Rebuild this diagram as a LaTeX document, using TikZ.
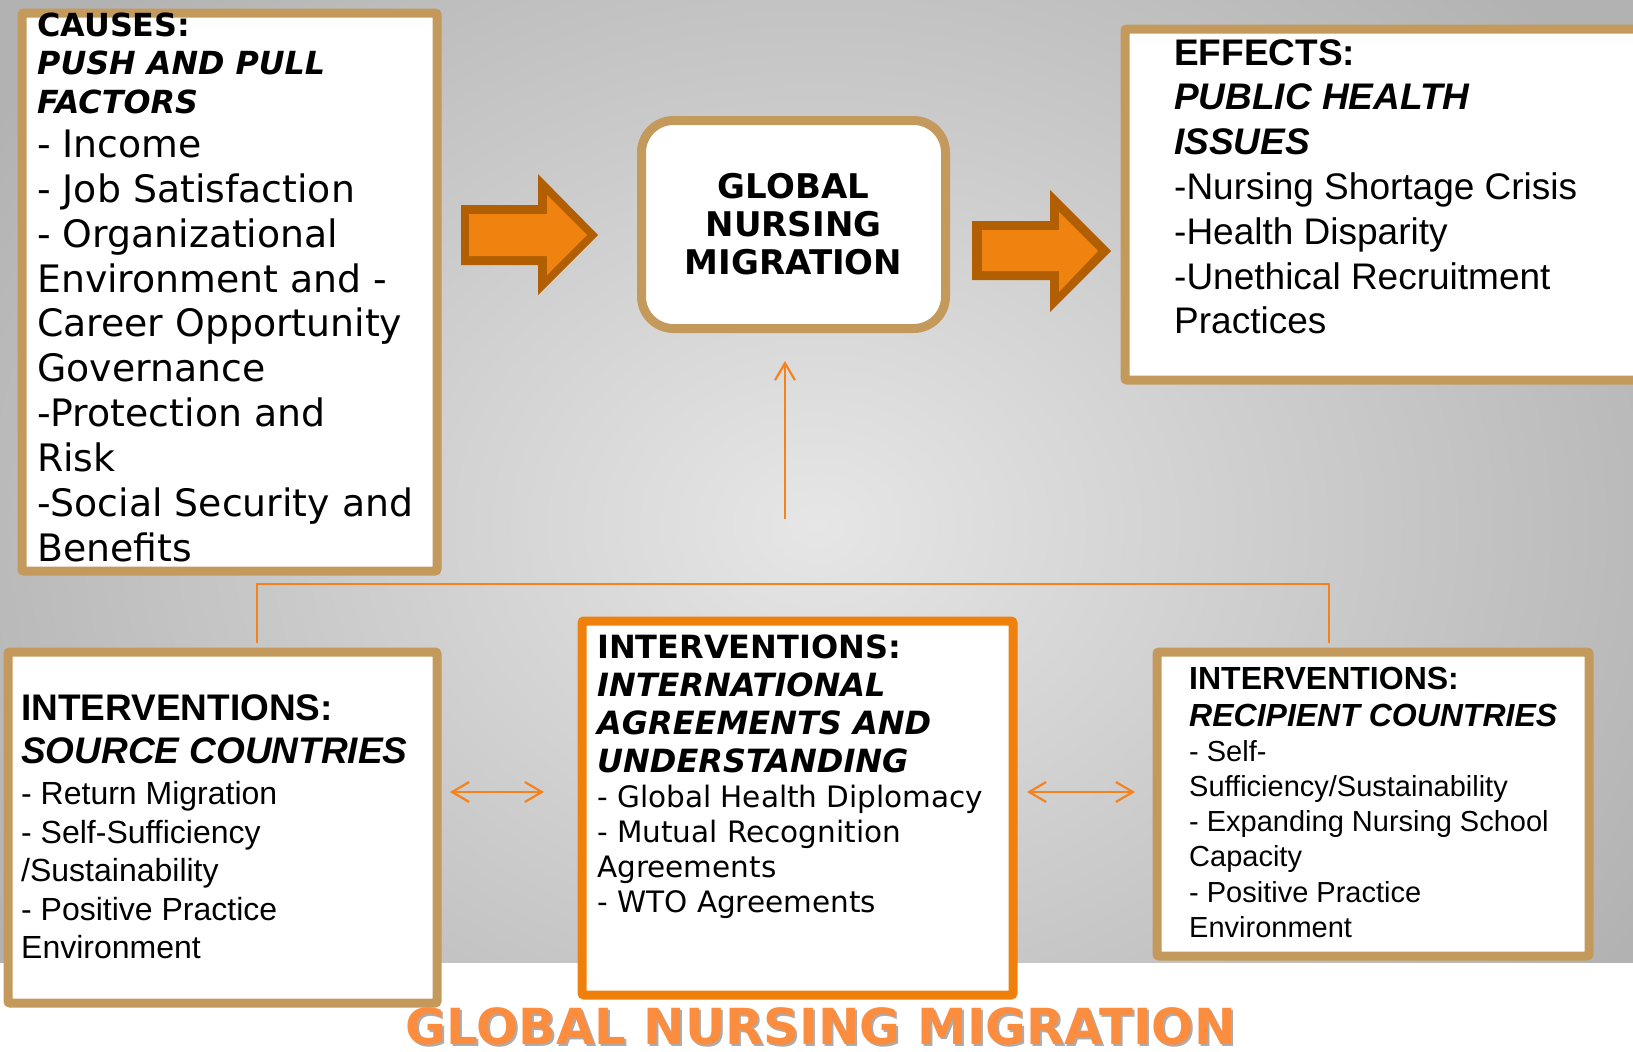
\documentclass[tikz,border=0pt]{standalone}
\usepackage{fontspec}
\setmainfont{DejaVu Sans}
\newfontfamily\ari{Liberation Sans}
\newfontfamily\ver{DejaVu Sans}[BoldFont={DejaVu Sans Bold},ItalicFont={DejaVu Sans Oblique},BoldItalicFont={DejaVu Sans Bold Oblique}]
\usetikzlibrary{arrows.meta}
\definecolor{boxtan}{RGB}{196,153,92}
\definecolor{boxorange}{RGB}{240,128,12}
\definecolor{arrfill}{RGB}{240,130,15}
\definecolor{arrdark}{RGB}{178,94,2}
\definecolor{lineor}{RGB}{246,130,30}
\definecolor{titleor}{RGB}{252,141,62}
\definecolor{bgin}{RGB}{230,230,230}
\definecolor{bgout}{RGB}{178,178,178}
\tikzset{
  panel/.style={draw=boxtan, line width=9pt, fill=white, rectangle, rounded corners=2pt, inner sep=0pt, anchor=north west},
  txt/.style={anchor=base west, inner sep=0pt, align=flush left, text width=#1},
  thinarrow/.style={draw=lineor, line width=2.2pt, arrows={-Straight Barb[length=17pt,width=20pt]}},
  dblarrow/.style={draw=lineor, line width=2.2pt, arrows={Straight Barb[length=17pt,width=20pt]-Straight Barb[length=17pt,width=20pt]}},
  conn/.style={draw=lineor, line width=2pt}
}
\begin{document}
\begin{tikzpicture}[x=1pt,y=-1pt]
\useasboundingbox (0,0) rectangle (1633,1052);
\fill[white] (0,0) rectangle (1633,1052);
\begin{scope}
\clip (0,0) rectangle (1633,962);
\shade[inner color=bgin, outer color=bgout] (-150,-250) rectangle (1783,1300);
\end{scope}

% block arrows
\fill[arrdark] (461,205) -- (538,205) -- (538,174) -- (598,235) -- (538,295) -- (538,265) -- (461,265) -- cycle;
\fill[arrfill] (469,214) -- (547,214) -- (547,195) -- (587,235) -- (547,275) -- (547,256) -- (469,256) -- cycle;
\fill[arrdark] (972,221) -- (1050,221) -- (1050,190) -- (1111,251) -- (1050,312) -- (1050,280) -- (972,280) -- cycle;
\fill[arrfill] (982,230) -- (1059,230) -- (1059,212) -- (1098,251) -- (1059,292) -- (1059,271) -- (982,271) -- cycle;

% panels
\node[panel, minimum width=415pt, minimum height=558pt] (causes) at (17.5,8.5) {};
\node[panel, minimum width=513pt, minimum height=351pt] (effects) at (1120.5,24.5) {};
\node[panel, anchor=center, rounded corners=32pt, minimum width=304pt, minimum height=208pt,
      text width=300pt, align=center, font=\ver\bfseries\fontsize{34}{38}\selectfont] (gnm) at (793.5,224.5) {GLOBAL\\ NURSING\\ MIGRATION};
\node[panel, minimum width=429pt, minimum height=351pt] (src) at (3.5,647.5) {};
\node[panel, draw=boxorange, minimum width=431pt, minimum height=374pt] (intl) at (577.5,616.5) {};
\node[panel, minimum width=432pt, minimum height=304pt] (rec) at (1152.5,647.5) {};

% texts
\node[txt=450pt] (causesT) at (37,36) {{\ver\fontsize{31.8}{38.5}\selectfont\bfseries CAUSES:\\ \itshape PUSH AND PULL\\ FACTORS\par}{\ver\fontsize{37.8}{44.8}\selectfont - Income\\ - Job Satisfaction\\ - Organizational\\ Environment and -\\ Career Opportunity\\ Governance\\ -Protection and\\ Risk\\ -Social Security and\\ Benefits\par}};
\node[txt=480pt] (effectsT) at (1174,65) {\ari\fontsize{37}{44.8}\selectfont\textbf{EFFECTS:}\\ \textbf{\textit{PUBLIC HEALTH}}\\ \textbf{\textit{ISSUES}}\\ -Nursing Shortage Crisis\\ -Health Disparity\\ -Unethical Recruitment\\ Practices\par};
\node[txt=420pt] (srcT) at (21,720) {{\ari\fontsize{37}{43}\selectfont\bfseries INTERVENTIONS:\\ \itshape SOURCE COUNTRIES\par}\vskip 3pt{\ari\fontsize{32}{38.5}\selectfont - Return Migration\\ - Self-Sufficiency\\ /Sustainability\\ - Positive Practice\\ Environment\par}};
\node[txt=420pt] (intlT) at (597,658) {{\ver\fontsize{32}{38}\selectfont\bfseries INTERVENTIONS:\\ \itshape INTERNATIONAL\\ AGREEMENTS AND\\ UNDERSTANDING\par}{\ver\fontsize{29.5}{35}\selectfont - Global Health Diplomacy\\ - Mutual Recognition\\ Agreements\\ - WTO Agreements\par}};
\node[txt=420pt] (recT) at (1189,689) {{\ari\fontsize{32}{37}\selectfont\bfseries INTERVENTIONS:\\ \itshape RECIPIENT COUNTRIES\par}{\ari\fontsize{29}{35.2}\selectfont - Self-\\ Sufficiency/Sustainability\\ - Expanding Nursing School\\ Capacity\\ - Positive Practice\\ Environment\par}};

% connectors
\coordinate (jl) at (257,584);
\coordinate (jr) at (1329,584);
\draw[conn, shorten <=4.5pt, shorten >=4.5pt] (src.north -| jl) -- (jl) -- (jr) -- (rec.north -| jr);
\coordinate (upS) at (785,519);
\coordinate (upE) at (785,361);
\draw[thinarrow] (upS) -- (upE);
\coordinate (la1) at (450,792);
\coordinate (la2) at (544,792);
\draw[dblarrow] (la1) -- (la2);
\coordinate (ra1) at (1027,792);
\coordinate (ra2) at (1135,792);
\draw[dblarrow] (ra1) -- (ra2);

% title
\node[anchor=base, inner sep=0pt, font=\ver\bfseries\fontsize{49.7}{59}\selectfont, text=gray!65] (titleS) at (822.5,1046.5) {GLOBAL NURSING MIGRATION};
\node[anchor=base, inner sep=0pt, font=\ver\bfseries\fontsize{49.7}{59}\selectfont, text=titleor] (title) at (820.5,1044) {GLOBAL NURSING MIGRATION};
\end{tikzpicture}
\end{document}
